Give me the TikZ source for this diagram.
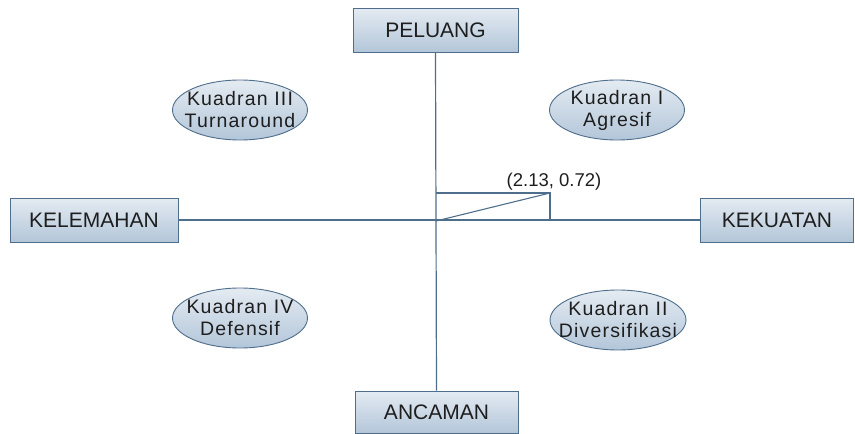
\documentclass[tikz,border=0pt]{standalone}
\usepackage{fontspec}
\setmainfont{Liberation Sans}
\newfontfamily\quadfont[LetterSpace=6]{Liberation Sans}
\usetikzlibrary{shapes.geometric}
\definecolor{edge}{HTML}{4F6E8C}
\definecolor{topc}{HTML}{E4EBF2}
\definecolor{botc}{HTML}{B3C6D9}
\definecolor{txt}{HTML}{1E1E1E}
\tikzset{
  boxnode/.style={draw=edge, line width=1pt, top color=topc, bottom color=botc,
    minimum width=165pt, minimum height=44pt, inner sep=0pt, font=\fontsize{21}{24}\selectfont, text=txt},
  quadshape/.style={draw=edge, line width=0.9pt, top color=topc, bottom color=botc},
  quad/.style={inner sep=0pt, align=center,
    font=\quadfont\fontsize{19.5}{22}\selectfont, text=txt},
  axis/.style={draw=edge, line width=1.2pt},
}
\begin{document}
\begin{tikzpicture}[x=1pt,y=-1pt]
\useasboundingbox (0,0) rectangle (855,434);
\node[boxnode] (pel) at (435.5,30) {PELUANG};
\node[boxnode, minimum width=168pt] (kel) at (94,220) {KELEMAHAN};
\node[boxnode, minimum width=153pt] (kek) at (777,220) {KEKUATAN};
\node[boxnode, minimum width=163pt, minimum height=42pt] (anc) at (436.5,412) {ANCAMAN};
\draw[axis] (pel.south) -- (anc.north);
\draw[axis] (kel.east) -- (kek.west);
\path[quadshape] (240,110) ellipse [x radius=67.5, y radius=30];
\path[quadshape] (617,110) ellipse [x radius=67.5, y radius=30];
\path[quadshape] (240,318) ellipse [x radius=67.5, y radius=30];
\path[quadshape] (618,320) ellipse [x radius=68, y radius=30];
\node[quad] (q3) at (240,110) {Kuadran III\\Turnaround};
\node[quad] (q1) at (617,110) {Kuadran I\\Agresif};
\node[quad] (q4) at (240,318) {Kuadran IV\\Defensif};
\node[quad] (q2) at (618,320) {Kuadran II\\Diversifikasi};
\coordinate (o) at (436,221);
\coordinate (a) at (436,193);
\coordinate (p) at (550,193);
\coordinate (b) at (550,221);
\draw[edge, line width=1.1pt] (a) -- (p) -- (b);
\draw[edge, line width=1.1pt] (o) -- (p);
\node[font=\fontsize{18.5}{20}\selectfont, text=txt] (lab) at (554,182) {(2.13, 0.72)};
\end{tikzpicture}
\end{document}
